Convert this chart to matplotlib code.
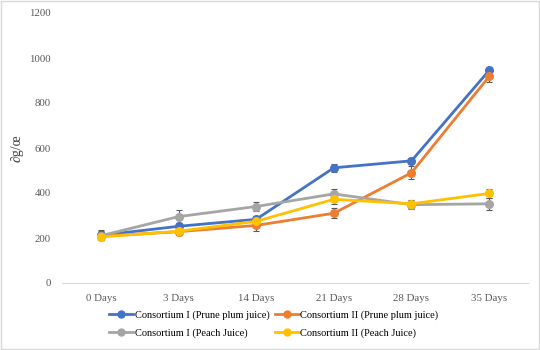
import matplotlib
matplotlib.use("Agg")
import matplotlib.pyplot as plt
from matplotlib.lines import Line2D
import numpy as np

plt.rcParams['font.family'] = ['Liberation Serif', 'DejaVu Serif']

days = ["0 Days", "3 Days", "14 Days", "21 Days", "28 Days", "35 Days"]

c1_prune = [212, 252, 283, 512, 543, 945]
c1_prune_err = [22, 15, 15, 18, 12, 12]
c2_prune = [208, 228, 256, 310, 490, 918]
c2_prune_err = [18, 14, 25, 22, 28, 25]
c1_peach = [210, 295, 340, 396, 348, 352]
c1_peach_err = [20, 28, 22, 20, 18, 28]
c2_peach = [205, 230, 274, 372, 352, 398]
c2_peach_err = [15, 18, 15, 20, 18, 22]

series = [
    ("Consortium I (Prune plum juice)", c1_prune, c1_prune_err, "#4472C4"),
    ("Consortium II (Prune plum juice)", c2_prune, c2_prune_err, "#ED7D31"),
    ("Consortium I (Peach Juice)", c1_peach, c1_peach_err, "#A5A5A5"),
    ("Consortium II (Peach Juice)", c2_peach, c2_peach_err, "#FFC000"),
]

fig = plt.figure(figsize=(5.4, 3.5), dpi=100)
ax = fig.add_axes([62/540, 1 - 283/350, 466/540, 270/350])

x = np.arange(len(days))
handles = []
for label, vals, err, col in series:
    ax.errorbar(x, vals, yerr=err, color=col, lw=2, marker='o', ms=5.5,
                ecolor="#595959", elinewidth=0.8, capsize=2, capthick=0.8)
    handles.append(Line2D([], [], color=col, lw=2, marker='o', ms=5, label=label))

ax.set_xlim(-0.5, len(days) - 0.5)
ax.set_ylim(0, 1200)
ax.set_yticks(range(0, 1201, 200))
ax.set_xticks(x)
ax.set_xticklabels(days)
ax.tick_params(length=0, labelsize=7.8, colors="#595959", pad=8)
for s in ["top", "right", "left"]:
    ax.spines[s].set_visible(False)
ax.spines["bottom"].set_color("#D9D9D9")
ax.set_ylabel("∂g/œ", fontsize=10, color="#404040", labelpad=4)

# legend fills column-wise, so reorder to get row-wise layout
order = [0, 2, 1, 3]
ax.legend([handles[i] for i in order], [handles[i].get_label() for i in order],
          loc="upper center", bbox_to_anchor=(0.455, -0.068), ncol=2,
          frameon=False, fontsize=7.5, handlelength=2.3, handletextpad=0.15,
          columnspacing=0.5, labelspacing=0.8)

fig.patches.append(plt.Rectangle((0.002, 0.003), 0.996, 0.994, transform=fig.transFigure,
                                 fill=False, edgecolor="#D9D9D9", lw=1))

fig.savefig("out.png", dpi=100)
